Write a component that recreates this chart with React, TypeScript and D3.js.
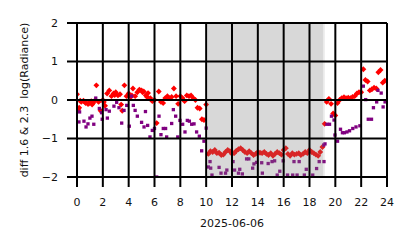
import React from "react";
import * as d3 from "d3";

const W = 414;
const H = 248;
const margin = { left: 77, right: 27, top: 23, bottom: 71 };

const xTicks = [0, 2, 4, 6, 8, 10, 12, 14, 16, 18, 20, 22, 24];
const yTicks = [-2, -1, 0, 1, 2];
const dateLabel = "2025-06-06";
const yLabel = "diff 1.6 & 2.3  log(Radiance)";

// shaded (daylight) spans, hours
const spanA = [9.98, 19.04];
const spanB = [10.14, 19.18];

// red series: hour, value
const redHours = [
  0.0, 0.17, 0.33, 0.5, 0.67, 0.83, 1.0, 1.17, 1.33, 1.5, 1.67, 1.83,
  2.0, 2.17, 2.33, 2.5, 2.67, 2.83, 3.0, 3.17, 3.33, 3.5, 3.67, 3.83,
  4.0, 4.17, 4.33, 4.5, 4.67, 4.83, 5.0, 5.17, 5.33, 5.5, 5.67, 5.83,
  6.0, 6.17, 6.33, 6.5, 6.67, 6.83, 7.0, 7.17, 7.33, 7.5, 7.67, 7.83,
  8.0, 8.17, 8.33, 8.5, 8.67, 8.83, 9.0, 9.17, 9.33, 9.5, 9.67, 9.83,
  10.0, 10.17, 10.33, 10.5, 10.67, 10.83, 11.0, 11.17, 11.33, 11.5, 11.67, 11.83,
  12.0, 12.17, 12.33, 12.5, 12.67, 12.83, 13.0, 13.17, 13.33, 13.5, 13.67, 13.83,
  14.0, 14.17, 14.33, 14.5, 14.67, 14.83, 15.0, 15.17, 15.33, 15.5, 15.67, 15.83,
  16.0, 16.17, 16.33, 16.5, 16.67, 16.83, 17.0, 17.17, 17.33, 17.5, 17.67, 17.83,
  18.0, 18.17, 18.33, 18.5, 18.67, 18.83, 19.0, 19.17, 19.33, 19.5, 19.67, 19.83,
  20.0, 20.17, 20.33, 20.5, 20.67, 20.83, 21.0, 21.17, 21.33, 21.5, 21.67, 21.83,
  22.0, 22.17, 22.33, 22.5, 22.67, 22.83, 23.0, 23.17, 23.33, 23.5, 23.67, 23.83,
  0.08, 0.25, 0.6, 0.9, 1.1, 1.25, 2.08, 2.92, 3.42, 4.25, 5.08, 5.42,
];
const redValues = [
  0.15, -0.2, -0.05, -0.02, -0.08, -0.1, -0.05, -0.12, -0.03, 0.38, -0.05, -0.28,
  0.0, -0.15, 0.17, 0.25, 0.1, 0.17, 0.2, 0.12, 0.15, -0.28, 0.38, 0.1,
  0.17, 0.08, 0.3, 0.1, 0.2, 0.27, 0.25, 0.22, 0.12, 0.18, 0.05, -0.03,
  0.0, -0.6, 0.22, -0.05, -0.08, 0.05, 0.1, 0.05, 0.08, 0.3, 0.1, -0.1,
  0.1, 0.05, -0.03, 0.12, 0.1, 0.12, 0.05, 0.0, -0.2, -0.22, -0.5, -0.52,
  -0.12, -1.4, -1.33, -1.35, -1.3, -1.38, -1.37, -1.43, -1.42, -1.35, -1.3, -1.33,
  -1.4, -1.38, -1.32, -1.28, -1.25, -1.3, -1.35, -1.38, -1.33, -1.38, -1.43, -1.4,
  -1.35, -1.37, -1.38, -1.35, -1.4, -1.43, -1.38, -1.45, -1.4, -1.35, -1.38, -1.42,
  -1.3, -1.25, -1.4, -1.45, -1.38, -1.42, -1.4, -1.38, -1.43, -1.4, -1.35, -1.38,
  -1.3, -1.35, -1.38, -1.42, -1.45, -1.35, -1.22, -0.62, -0.05, 0.03, -0.1, -0.35,
  -0.4, -0.08, 0.0, 0.05, 0.07, 0.05, 0.06, 0.05, 0.08, 0.1, 0.17, 0.2,
  0.2, 0.8, 0.52, 0.48, 0.25, 0.28, 0.32, 0.3, 0.72, 0.78, 0.45, 0.5,
  -0.25, -0.02, -0.05, -0.1, -0.03, -0.08, -0.05, 0.13, -0.12, 0.12, 0.2, 0.08,
];

// purple series: hour, value
const purpleHours = [
  0.15, 0.2, 0.54, 0.7, 0.85, 1.0, 1.16, 1.3, 1.45, 1.73, 1.9, 1.95,
  2.25, 2.35, 2.5, 2.86, 3.07, 3.25, 3.46, 3.64, 3.85, 4.05, 4.23, 4.36,
  4.5, 4.67, 5.0, 5.19, 5.3, 5.47, 5.65, 5.83, 6.0, 6.17, 6.35, 6.5,
  6.68, 6.86, 6.94, 7.33, 7.46, 7.64, 7.8, 7.97, 8.18, 8.36, 8.54, 8.7,
  8.88, 9.06, 9.26, 9.47, 9.65, 9.83, 10.0, 10.17, 10.3, 10.35, 10.45, 11.0,
  11.15, 11.5, 11.6, 12.08, 12.2, 12.5, 12.6, 12.8, 13.13, 13.3, 13.6, 13.7,
  13.9, 14.3, 14.35, 14.8, 15.1, 15.3, 15.5, 15.7, 15.96, 16.3, 16.7, 16.8,
  17.04, 17.2, 17.6, 17.75, 18.25, 18.55, 18.75, 19.1, 19.12, 19.2, 19.35, 19.55,
  19.7, 19.9, 19.97, 20.17, 20.4, 20.55, 20.7, 20.9, 21.1, 21.35, 21.6, 21.9,
  22.17, 22.35, 22.55, 22.8, 22.95, 23.2, 23.3, 23.55, 23.7, 23.85,
];
const purpleValues = [
  -0.57, -0.31, -0.55, -0.7, -0.62, -0.47, -0.42, -0.63, 0.05, -0.22, -0.33, -0.5,
  -0.25, -0.47, -0.29, -0.16, -0.06, -0.2, -0.6, -0.27, -0.14, -0.68, 0.1, -0.14,
  -0.27, -0.42, -0.58, -0.7, -0.3, -0.66, -0.96, -0.79, -0.74, -2.0, -0.42, -0.9,
  -0.74, -0.74, -0.96, -0.61, -0.25, -0.42, -0.96, -0.53, -0.63, -0.83, -0.53, -0.55,
  -0.63, -0.62, -0.83, -0.94, -1.32, -1.07, -0.73, -1.74, -1.6, -1.77, -1.95, -1.75,
  -1.9, -1.9, -1.82, -1.6, -1.82, -1.9, -1.8, -1.92, -1.53, -1.53, -1.77, -1.66,
  -1.62, -1.63, -1.9, -1.65, -1.6, -1.58, -1.95, -1.85, -1.58, -1.95, -1.95, -1.6,
  -1.95, -1.6, -1.95, -1.8, -1.95, -1.78, -1.6, -1.17, -1.6, -1.14, -0.63, -0.63,
  -0.42, -0.52, -0.91, -1.07, -0.76, -0.85, -0.85, -0.83, -0.8, -0.74, -0.7, -0.67,
  0.36, 0.01, -0.5, -0.5, -0.2, -0.05, 0.25, 0.18, -0.18, -0.05,
];

const FONT = "'DejaVu Sans', sans-serif";
const FS = 11;

export default function App() {
  const iw = W - margin.left - margin.right;
  const ih = H - margin.top - margin.bottom;
  const x = d3.scaleLinear().domain([0, 24]).range([margin.left, margin.left + iw]);
  const y = d3.scaleLinear().domain([-2, 2]).range([margin.top + ih, margin.top]);
  const diamond = d3.symbol().type(d3.symbolDiamond2).size(22)();
  const square = d3.symbol().type(d3.symbolSquare2).size(14)();

  const red = redHours.map((h, i) => ({ h, v: redValues[i] }));
  const purple = purpleHours.map((h, i) => ({ h, v: purpleValues[i] }));

  return (
    <svg
      width={W}
      height={H}
      style={{ position: "absolute", left: 0, top: 0, background: "#fff" }}
      fontFamily={FONT}
    >
      <defs>
        <clipPath id="plotclip">
          <rect x={margin.left} y={margin.top - 3} width={iw} height={ih + 4} />
        </clipPath>
      </defs>
      <g clipPath="url(#plotclip)">
        {red.map((d, i) => (
          <path key={"r" + i} d={diamond} fill="#ff0000" transform={`translate(${x(d.h)},${y(d.v)})`} />
        ))}
        {purple.map((d, i) => (
          <path key={"p" + i} d={square} fill="#800080" transform={`translate(${x(d.h)},${y(d.v)})`} />
        ))}
        {[spanA, spanB].map((s, i) => (
          <rect
            key={"s" + i}
            x={x(s[0])}
            y={margin.top}
            width={x(s[1]) - x(s[0])}
            height={ih}
            fill="#808080"
            fillOpacity={0.163}
          />
        ))}
      </g>
      {xTicks.map((t) => (
        <line key={"gx" + t} x1={x(t)} x2={x(t)} y1={margin.top} y2={margin.top + ih + 10} stroke="#000" strokeWidth={2} />
      ))}
      {yTicks.map((t) => (
        <line key={"gy" + t} x1={margin.left - 10} x2={margin.left + iw} y1={y(t)} y2={y(t)} stroke="#000" strokeWidth={2} />
      ))}
      {xTicks.map((t) => (
        <text key={"tx" + t} x={x(t)} y={206} fontSize={FS} textAnchor="middle" fill="#111">
          {String(t)}
        </text>
      ))}
      {yTicks.map((t) => (
        <text key={"ty" + t} x={margin.left - 19} y={y(t)} dy="0.36em" fontSize={FS} textAnchor="end" fill="#111">
          {t < 0 ? "\u2212" + Math.abs(t) : String(t)}
        </text>
      ))}
      <text x={margin.left + iw / 2} y={227} fontSize={FS} textAnchor="middle" fill="#111">
        {dateLabel}
      </text>
      <text
        transform={`translate(28,${margin.top + ih / 2}) rotate(-90)`}
        fontSize={FS}
        textAnchor="middle"
        fill="#111"
        style={{ whiteSpace: "pre" }}
      >
        {yLabel}
      </text>
    </svg>
  );
}
